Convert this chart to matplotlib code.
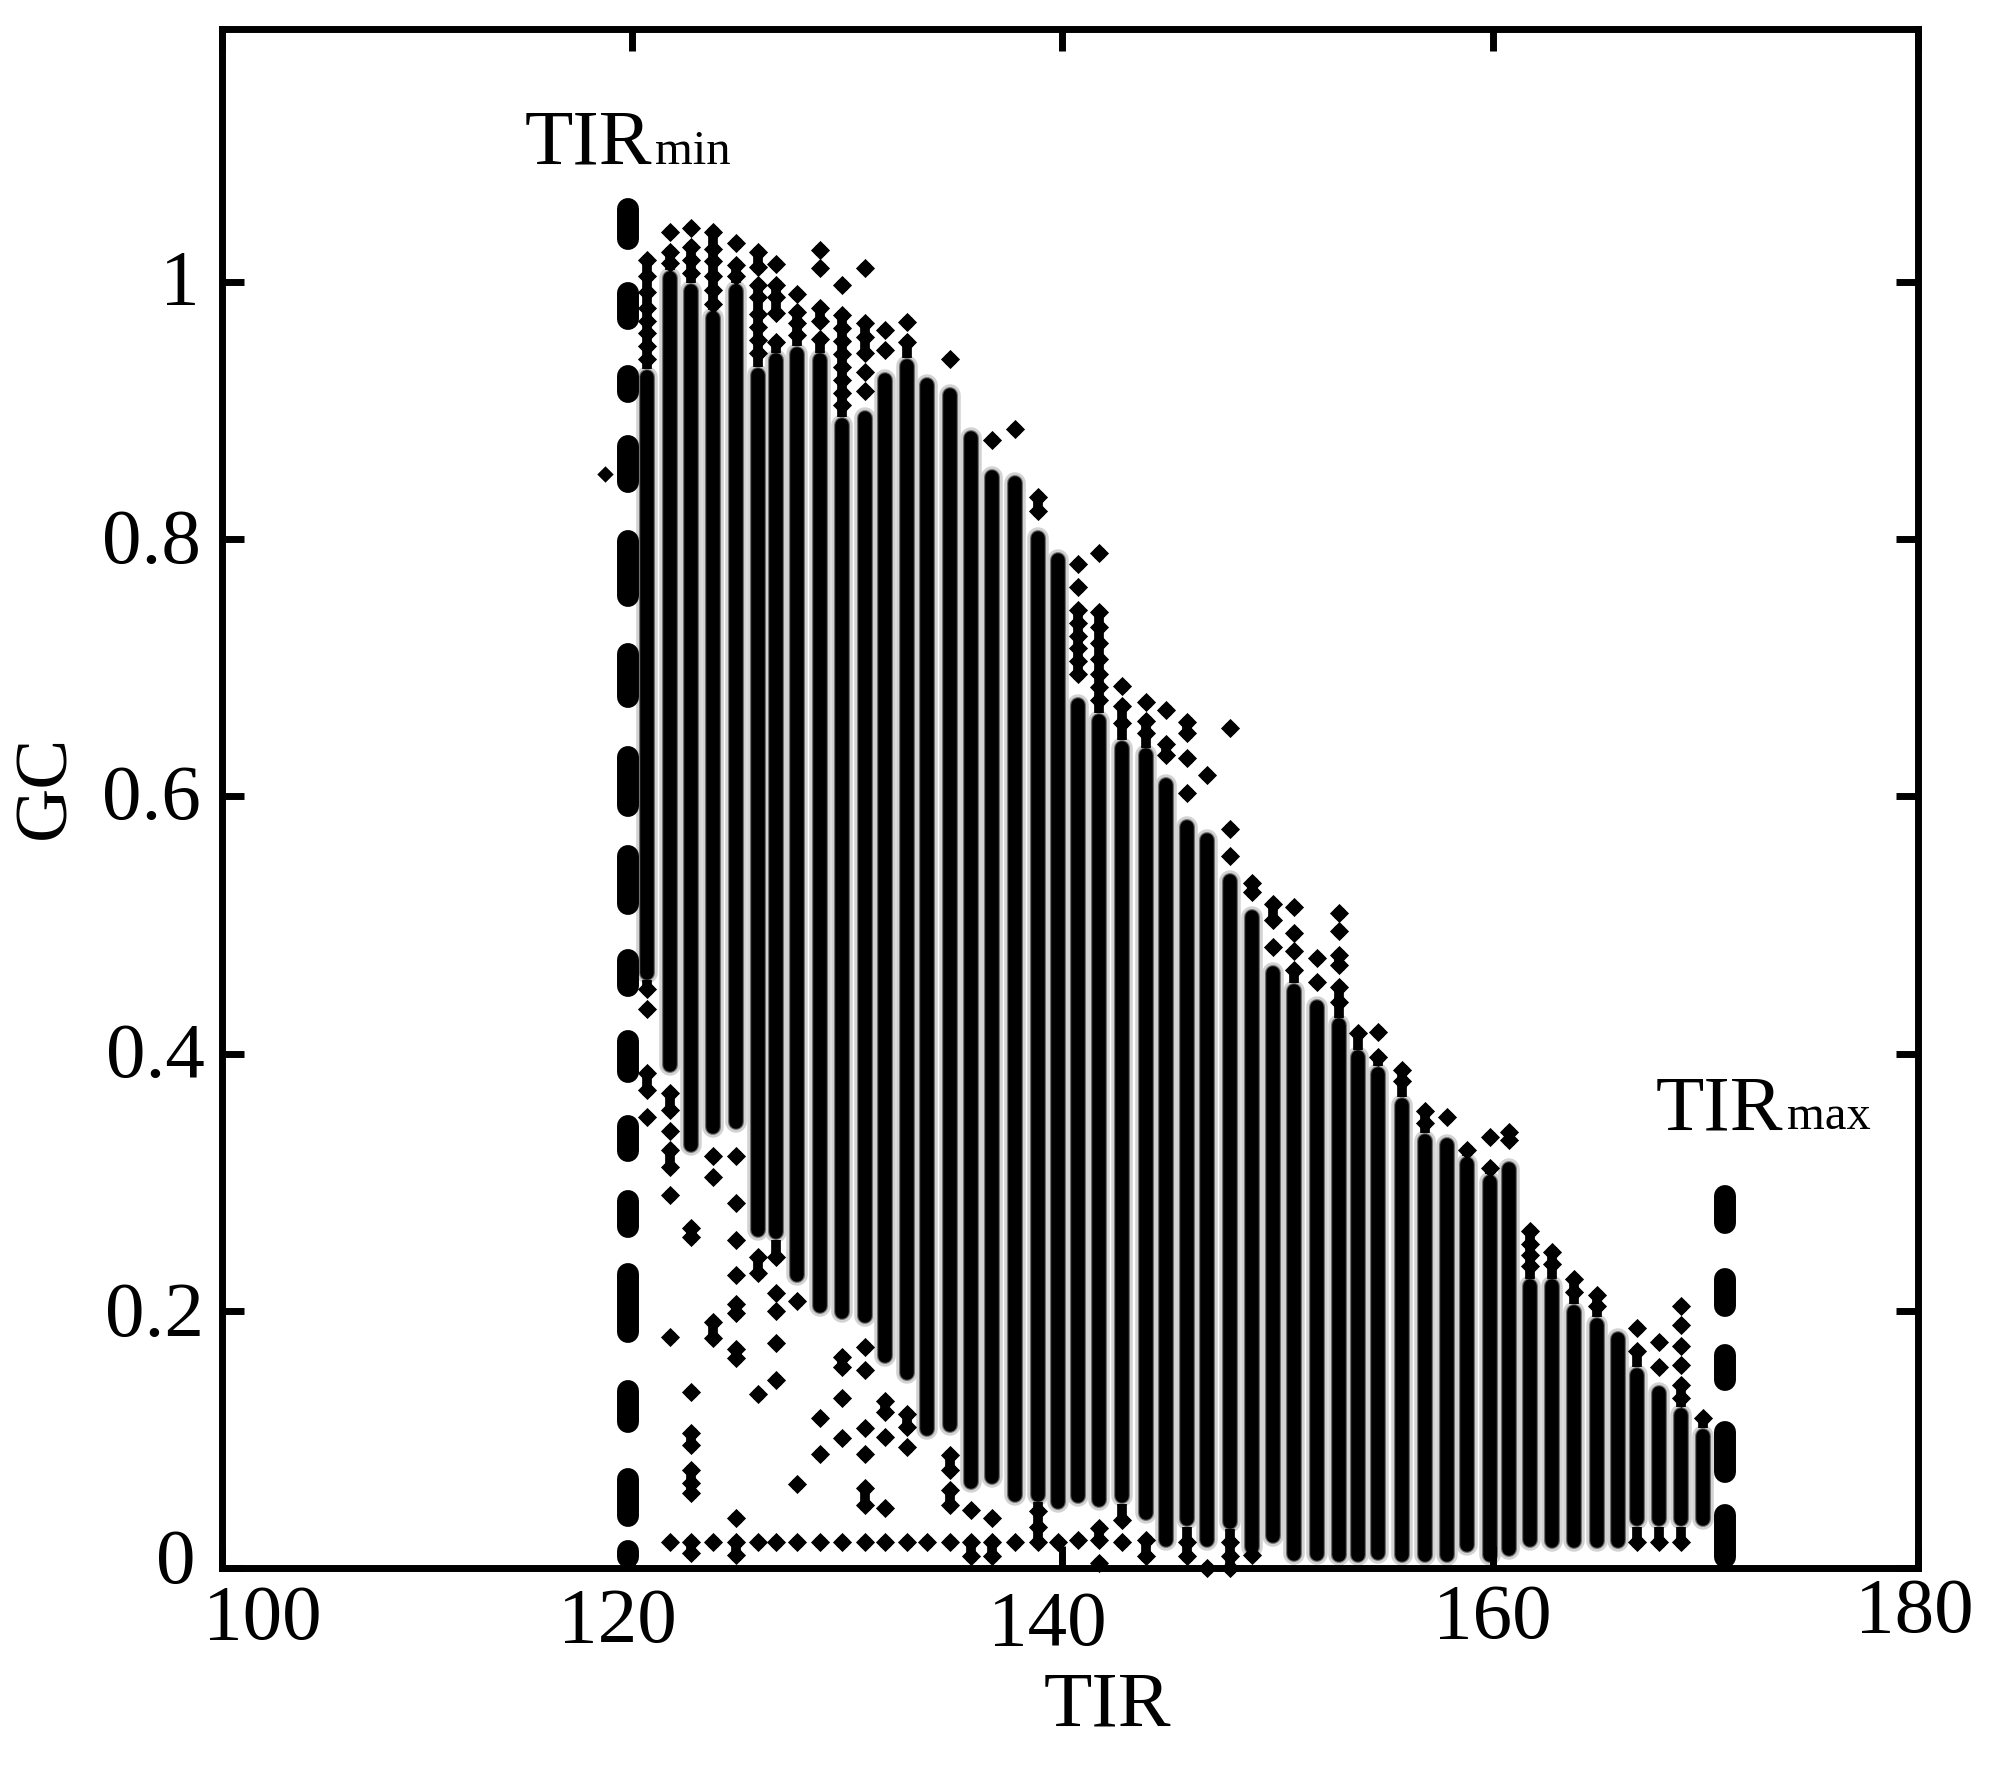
from matplotlib import pyplot as plt
from matplotlib.transforms import ScaledTranslation

plt.rcParams['font.family'] = ['Liberation Serif', 'DejaVu Serif']

# column positions
tir = [120.70, 121.77, 122.74, 123.77, 124.84, 125.86, 126.70, 127.67, 128.74, 129.77,
       130.84, 131.77, 132.79, 133.72, 134.79, 135.77, 136.74, 137.81, 138.84, 139.81,
       140.70, 141.72, 142.79, 143.86, 144.79, 145.81, 146.74, 147.77, 148.79, 149.77,
       150.74, 151.81, 152.84, 153.72, 154.65, 155.77, 156.84, 157.86, 158.79, 159.86,
       160.74, 161.72, 162.74, 163.77, 164.84, 165.81, 166.70, 167.72, 168.74, 169.77]

# where each column is a continuous black bar
col_top = [.932, 1.009, .999, .978, .999, .934, .945, .950, .945, .895,
           .900, .930, .941, .926, .918, .885, .854, .850, .807, .790,
           .677, .665, .644, .638, .615, .582, .572, .540, .512, .469,
           .455, .442, .428, .403, .390, .366, .338, .335, .320, .306,
           .316, .225, .225, .205, .195, .184, .156, .142, .125, .109]
col_bot = [.457, .385, .323, .337, .341, .257, .255, .222, .198, .193,
           .190, .159, .146, .102, .105, .061, .065, .051, .051, .045,
           .050, .047, .050, .037, .016, .032, .016, .030, .010, .019,
           .005, .005, .004, .004, .006, .004, .004, .004, .012, .004,
           .009, .016, .015, .015, .015, .015, .032, .032, .032, .032]

# single points above the bars
upper_pts = [
    [1.017, 1.005, .992, .98, .97, .96, .95, .94],
    [1.039, 1.023, 1.015],
    [1.042, 1.027, 1.017, 1.007],
    [1.039, 1.026, 1.016, 1.005, .994, .983],
    [1.03, 1.013, 1.005],
    [1.023, 1.012, .998, .988, .975, .965, .955, .945],
    [1.014, .998, .988, .976, .953],
    [.991, .977, .968, .959],
    [1.025, 1.011, .98, .97, .956],
    [.998, .974, .964, .954, .944, .934, .924, .914, .904],
    [1.011, .968, .957, .945, .93, .915],
    [.963, .947],
    [.969, .953],
    [],
    [.94],
    [],
    [.877],
    [.886],
    [.833, .822],
    [],
    [.781, .763, .745, .735, .725, .715, .705, .695],
    [.789, .743, .732, .719, .707, .695, .685, .675],
    [.686, .67, .657],
    [.673, .659, .649],
    [.667, .641, .632],
    [.658, .649, .63, .603],
    [.617],
    [.653, .575, .554],
    [.533, .526],
    [.516, .504, .483],
    [.514, .494, .48, .465],
    [.474, .456],
    [.509, .495, .477, .469, .452, .44],
    [.416],
    [.417, .397],
    [.387, .379],
    [.355, .346],
    [.351],
    [.325],
    [.335, .311],
    [.339, .333],
    [.262, .252, .243, .235],
    [.246, .236],
    [.225, .215],
    [.212, .204],
    [],
    [.187, .169],
    [.176, .156],
    [.204, .189, .173, .158, .142, .132],
    [.117],
]

# single points below the bars
lower_pts = [
    [.45, .435, .385, .372, .351],
    [.369, .356, .34, .325, .312, .29, .18, .02],
    [.264, .257, .137, .105, .096, .076, .066, .058, .02, .012],
    [.32, .304, .191, .179, .02],
    [.32, .284, .255, .228, .205, .198, .17, .163, .039, .02, .01],
    [.242, .229, .135, .02],
    [.242, .214, .2, .175, .146, .02],
    [.208, .065, .02],
    [.117, .089, .02],
    [.164, .156, .132, .101, .02],
    [.172, .154, .109, .089, .062, .049, .02],
    [.13, .121, .102, .047, .02],
    [.12, .11, .094, .02],
    [.02],
    [.088, .076, .061, .049, .02],
    [.045, .02, .009],
    [.039, .02, .009],
    [.02],
    [.044, .032, .02],
    [.02],
    [.022],
    [.031, .022, .004],
    [.037, .02],
    [.022, .009],
    [],
    [.02, .009],
    [0.0],
    [.02, .009, 0.0],
    [.01],
    [], [], [], [], [], [], [], [], [], [], [],
    [], [], [], [], [], [],
    [.02],
    [.02],
    [.02],
    [],
]

stray_tir = [118.74]
stray_gc = [.851]

# irregular dashes of the two limit lines
tir_min = 119.81
min_dash_top = [1.065, 1.0, .935, .881, .807, .719, .639, .562, .481, .418, .352, .294, .237, .146, .078, .022]
min_dash_bot = [1.025, .963, .906, .836, .747, .669, .584, .508, .444, .377, .316, .257, .175, .105, .032, 0.0]
tir_max = 170.79
max_dash_top = [.298, .233, .174, .114, .05]
max_dash_bot = [.26, .195, .138, .066, 0.0]

x_ticks = [100.93, 120, 140, 160, 179.77]
x_labels = ['100', '120', '140', '160', '180']
y_ticks = [0, 0.2, 0.4, 0.6, 0.8, 1]
y_labels = ['0', '0.2', '0.4', '0.6', '0.8', '1']

W, H = 1991, 1784
fig = plt.figure(figsize=(W / 100, H / 100), dpi=100)
ax = fig.add_axes([222 / W, 1 - 1568 / H, (1918 - 222) / W, (1568 - 29) / H])

# soft gray edge around the columns, the original is a blurred scan
for x, t, b in zip(tir, col_top, col_bot):
    ax.plot([x, x], [t - .006, b + .006], color='#d2d2d2', lw=15.5, solid_capstyle='round', zorder=1)
for x, t, b in zip(tir, col_top, col_bot):
    ax.plot([x, x], [t - .006, b + .006], color='#707070', lw=11.5, solid_capstyle='round', zorder=1.5)
for x, t, b in zip(tir, col_top, col_bot):
    ax.plot([x, x], [t - .006, b + .006], color='black', lw=9.8, solid_capstyle='round', zorder=2)

pts_x = []
pts_y = []
for x, up, low in zip(tir, upper_pts, lower_pts):
    for y in up + low:
        pts_x.append(x)
        pts_y.append(y)
ax.scatter(pts_x, pts_y, marker='D', s=95, c='black', linewidths=0, zorder=3, clip_on=False)
ax.scatter(pts_x, pts_y, marker='o', s=90, c='black', linewidths=0, zorder=3, clip_on=False)
ax.scatter(stray_tir, stray_gc, marker='D', s=70, c='black', linewidths=0, zorder=3)

# points that nearly touch read as a beaded stem in the original
for x, t, b, up, low in zip(tir, col_top, col_bot, upper_pts, lower_pts):
    chain = up + [t, b] + low
    for y0, y1 in zip(chain[:-1], chain[1:]):
        if y0 != t and y0 - y1 < .0135:
            ax.plot([x, x], [y0, y1], color='black', lw=7, solid_capstyle='butt', zorder=2.5)

for t, b in zip(min_dash_top, min_dash_bot):
    ax.plot([tir_min, tir_min], [t - .0085, b + .0085], color='black', lw=15.8, solid_capstyle='round', zorder=4)
for t, b in zip(max_dash_top, max_dash_bot):
    ax.plot([tir_max, tir_max], [t - .0085, b + .0085], color='black', lw=15.8, solid_capstyle='round', zorder=4)

ax.set_xlim(100.93, 179.77)
ax.set_ylim(0, 1.1967)
ax.set_xticks(x_ticks, x_labels)
ax.set_yticks(y_ticks, y_labels)
ax.tick_params(which='major', direction='in', top=True, right=True, length=16, width=5, pad=0, labelsize=57)
for s in ax.spines.values():
    s.set_linewidth(5)

# the labels sit off their ticks in the original, so move each one by hand (pixels)
x_shift = [(262 - 222, -(1639 - 1568)), (615 - 630, -(1642 - 1568)), (1046 - 1061, -(1645 - 1568)),
           (1491 - 1491, -(1638 - 1568)), (-4, -(1632 - 1568))]
for lab, (dx, dy) in zip(ax.get_xticklabels(), x_shift):
    lab.set_va('baseline')
    lab.set_ha('center')
    lab.set_transform(lab.get_transform() + ScaledTranslation(dx / 100, dy / 100, fig.dpi_scale_trans))
y_shift = [(176 - 222, 1568 - 1583), (155 - 222, 1311 - 1336), (155 - 222, 1054 - 1077),
           (151 - 222, 796 - 819), (151 - 222, 539 - 563), (180 - 222, 282 - 304)]
for lab, (dx, dy) in zip(ax.get_yticklabels(), y_shift):
    lab.set_va('baseline')
    lab.set_ha('center')
    lab.set_transform(lab.get_transform() + ScaledTranslation(dx / 100, dy / 100, fig.dpi_scale_trans))

ax.set_xlabel('TIR', fontsize=57, va='baseline')
ax.xaxis.set_label_coords((1107 - 222) / 1696, (1568 - 1725) / 1539)
ax.set_ylabel('GC', fontsize=54, va='baseline')
ax.yaxis.set_label_coords((64 - 222) / 1696, (1568 - 787) / 1539)

fig.text(525 / W, 1 - 164 / H, 'TIR', fontsize=57, va='baseline')
fig.text(655 / W, 1 - 164 / H, 'min', fontsize=35, va='baseline')
fig.text(1656 / W, 1 - 1129 / H, 'TIR', fontsize=57, va='baseline')
fig.text(1787 / W, 1 - 1129 / H, 'max', fontsize=35, va='baseline')

plt.savefig('out.png', dpi=100)
